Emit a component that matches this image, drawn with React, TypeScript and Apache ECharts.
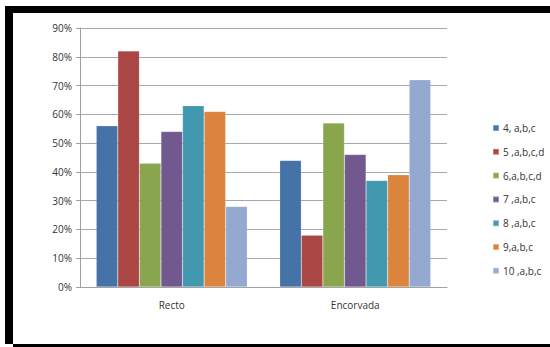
import React, { useEffect, useRef } from "react";
import * as echarts from "echarts";

const categories = ["Recto", "Encorvada"];
const seriesNames = ["4, a,b,c", "5 ,a,b,c,d", "6,a,b,c,d", "7 ,a,b,c", "8 ,a,b,c", "9,a,b,c", "10 ,a,b,c"];
const s4 = [56, 44];
const s5 = [82, 18];
const s6 = [43, 57];
const s7 = [54, 46];
const s8 = [63, 37];
const s9 = [61, 39];
const s10 = [28, 72];
const seriesValues = [s4, s5, s6, s7, s8, s9, s10];
const colors = ["#4572A7", "#AA4643", "#89A54E", "#71588F", "#4198AF", "#DB843D", "#93A9CF"];

export default function App() {
  const ref = useRef<HTMLDivElement>(null);
  useEffect(() => {
    if (!ref.current) return;
    const chart = echarts.init(ref.current, null, { renderer: "svg" });
    const font = "'Open Sans', 'Noto Sans', sans-serif";
    chart.setOption({
      animation: false,
      backgroundColor: "#ffffff",
      color: colors,
      textStyle: { fontFamily: font },
      grid: { left: 80, right: 103, top: 28, bottom: 60 },
      legend: {
        orient: "vertical",
        left: 487,
        top: 118,
        itemWidth: 6,
        itemHeight: 6,
        itemGap: 13.8,
        icon: "rect",
        textStyle: { fontSize: 10, color: "#333", fontFamily: font, padding: [0, 0, 0, -1] },
        data: seriesNames,
      },
      xAxis: {
        type: "category",
        data: categories,
        axisLine: { lineStyle: { color: "#a0a0a0" } },
        axisTick: { show: false },
        axisLabel: { fontSize: 10, color: "#333", margin: 13 },
      },
      yAxis: {
        type: "value",
        min: 0,
        max: 90,
        interval: 10,
        axisLine: { show: true, lineStyle: { color: "#a0a0a0" } },
        axisTick: { show: true, length: 4, lineStyle: { color: "#a0a0a0" } },
        splitLine: { lineStyle: { color: "#a8a8a8" } },
        axisLabel: { fontSize: 10, color: "#333", formatter: "{value}%", margin: 8 },
      },
      series: seriesNames.map((name, i) => ({
        name,
        type: "bar",
        data: seriesValues[i],
        barGap: "0%",
        barCategoryGap: "17.7%",
        itemStyle: { borderColor: "rgba(255,255,255,0.35)", borderWidth: 0.5 },
      })),
      graphic: [
        { type: "rect", shape: { x: 5, y: 6, width: 545, height: 7, r: [3, 0, 0, 0] }, style: { fill: "#000" } },
        { type: "rect", shape: { x: 5, y: 6, width: 8, height: 338 }, style: { fill: "#000" } },
        { type: "rect", shape: { x: 13, y: 344, width: 537, height: 3 }, style: { fill: "#000" } },
      ],
    });
    return () => chart.dispose();
  }, []);
  return <div ref={ref} style={{ position: "fixed", left: 0, top: 0, width: 550, height: 347 }} />;
}
